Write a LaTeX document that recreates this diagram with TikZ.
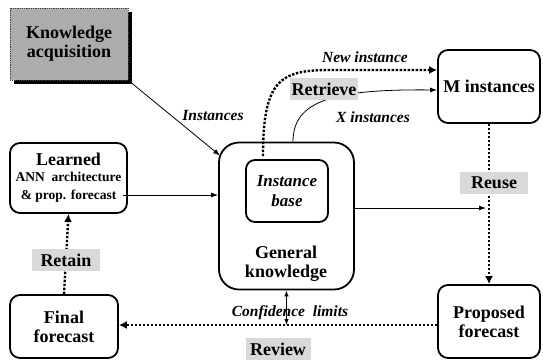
\documentclass[tikz,border=0pt]{standalone}
\usepackage{fontspec}
\setmainfont{Liberation Serif}
\usetikzlibrary{arrows.meta,positioning,shadows}

\tikzset{
  procbox/.style={draw, line width=1.8pt, rounded corners=10pt, align=center,
    font=\fontsize{18}{19}\selectfont\bfseries},
  graylabel/.style={fill=gray!30, inner sep=0pt, minimum height=22pt,
    font=\fontsize{18}{19}\selectfont\bfseries},
  itlabel/.style={font=\fontsize{15.5}{17}\selectfont\bfseries\itshape},
  arr/.style={line width=0.8pt, -{Latex[length=7pt,width=5pt]}},
  flow/.style={line width=2.4pt, dash pattern=on 2.4pt off 1.6pt,
    -{Latex[length=8pt,width=8pt]}},
}

\begin{document}
\begin{tikzpicture}[x=1pt,y=-1pt]
  \useasboundingbox (0,0) rectangle (543,360);

  \node [procbox, rounded corners=0pt, fill=gray!65, draw=black!75, line width=0.8pt,
    densely dotted, minimum width=118pt, minimum height=72pt,
    drop shadow={shadow xshift=4pt, shadow yshift=-4pt, fill=black, opacity=1}]
    (acq) at (69,44) {Knowledge\\acquisition};
  \node [procbox, minimum width=117pt, minimum height=70pt, inner sep=0pt] (learned) at (68.5,178)
    {Learned\\[-3pt]{\fontsize{13.5}{14}\selectfont ANN~ architecture}\\[-1pt]%
     {\fontsize{13.5}{14}\selectfont \& prop. forecast}};
  \node [procbox, rounded corners=20pt, minimum width=135pt, minimum height=147pt] (gk) at (286.5,216) {};
  \node [procbox, rounded corners=9pt, minimum width=82pt, minimum height=62pt,
    font=\fontsize{17}{20}\selectfont\bfseries\itshape] (base) at (287,191) {Instance\\base};
  \node [font=\fontsize{18}{19}\selectfont\bfseries, align=center] (gktext) at (286,264) {General\\knowledge};
  \node [procbox, minimum width=102pt, minimum height=73pt] (minst) at (489,86.5) {M instances};
  \node [procbox, minimum width=102pt, minimum height=73pt] (prop) at (489,321.5) {Proposed\\forecast};
  \node [procbox, minimum width=108pt, minimum height=63pt] (final) at (64,326.5) {Final\\forecast};

  \draw [arr] (acq.south east) -- ([shift={(2,14)}]gk.north west);
  \draw [arr] ([shift={(-5,17)}]learned.east) coordinate (l1) -- (l1 -| gk.west);
  \draw [arr] ([shift={(0,-8)}]gk.east) coordinate (g1) -- ([xshift=-3pt]g1 -| minst.south);
  \draw [arr] ([xshift=6.5pt]gk.north) .. controls (293,100) and (335,89) .. ([yshift=-3.5pt]minst.west);
  \draw [flow] ([shift={(-24,-3)}]base.north) .. controls (263,80) and (280,70) .. (330,70)
    -- ([yshift=16.5pt]minst.west);
  \draw [flow] (minst.south) -- (prop.north);
  \draw [flow] (final.north) -- (learned.south);
  \draw [flow] ([shift={(0,3.5)}]prop.west) coordinate (p1) -- (p1 -| final.east);
  \draw [line width=0.8pt, {Latex[length=6pt,width=4.5pt]}-{Latex[length=6pt,width=4.5pt]}]
    (gk.south) -- (gk.south |- p1);

  \node [itlabel] (inst) at (213,115) {Instances};
  \node [itlabel] (newinst) at (365,57) {New instance};
  \node [itlabel] (xinst) at (373,117) {X instances};
  \node [itlabel] (conf) at (290,313) {Confidence~ limits};
  \node [graylabel, minimum width=68pt] (retrieve) at (324,89) {Retrieve};
  \node [graylabel, minimum width=68pt] (reuse) at (494,183) {Reuse};
  \node [graylabel, minimum width=68pt] (retain) at (66,260) {Retain};
  \node [graylabel, minimum width=65pt] (review) at (278,349) {Review};
\end{tikzpicture}
\end{document}
